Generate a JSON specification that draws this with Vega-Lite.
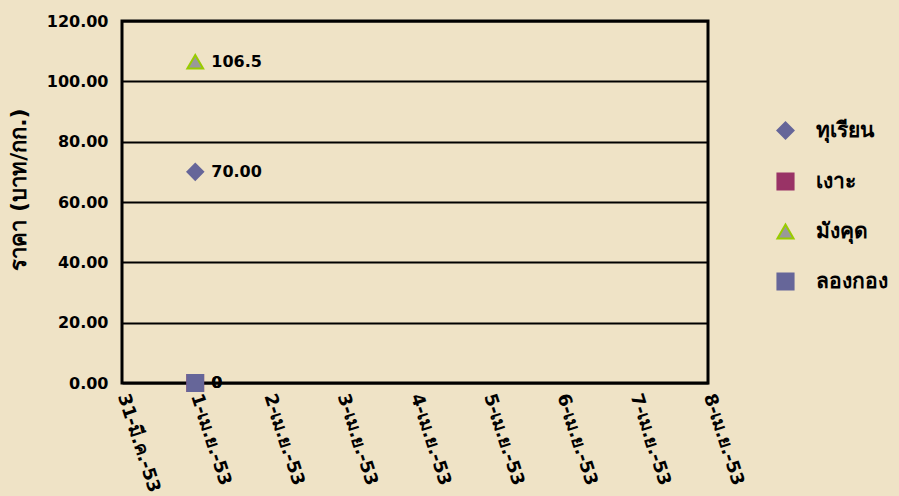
{
  "$schema": "https://vega.github.io/schema/vega-lite/v6.json",
  "width": 586,
  "height": 362,
  "autosize": {"type": "none"},
  "padding": {"left": 122, "top": 21, "right": 191, "bottom": 113},
  "background": "#EFE3C6",
  "config": {
    "font": "DejaVu Sans",
    "view": {"stroke": "#000000", "strokeWidth": 3},
    "axis": {"labelFont": "DejaVu Sans", "labelFontWeight": "bold", "labelColor": "#000000", "titleColor": "#000000"},
    "legend": {"symbolSize": 260, "symbolStrokeWidth": 2, "symbolOpacity": 1, "rowPadding": 26, "labelFontSize": 21, "labelFontWeight": "bold", "labelColor": "#000000", "labelOffset": 20}
  },
  "data": {
    "values": [
      {"date": "1-เม.ย.-53", "series": "ทุเรียน", "value": 70, "label": "70.00"},
      {"date": "1-เม.ย.-53", "series": "เงาะ", "value": 0, "label": "0"},
      {"date": "1-เม.ย.-53", "series": "มังคุด", "value": 106.5, "label": "106.5"},
      {"date": "1-เม.ย.-53", "series": "ลองกอง", "value": 0, "label": "0"}
    ]
  },
  "encoding": {
    "x": {
      "field": "date", "type": "ordinal",
      "scale": {"type": "point", "padding": 0, "domain": ["31-มี.ค.-53", "1-เม.ย.-53", "2-เม.ย.-53", "3-เม.ย.-53", "4-เม.ย.-53", "5-เม.ย.-53", "6-เม.ย.-53", "7-เม.ย.-53", "8-เม.ย.-53"]},
      "axis": {"title": null, "labelAngle": 72, "labelAlign": "left", "labelBaseline": "middle", "labelFontSize": 18, "labelPadding": 11, "ticks": false, "domain": false, "grid": false}
    },
    "y": {
      "field": "value", "type": "quantitative",
      "scale": {"domain": [0, 120], "nice": false, "zero": true},
      "axis": {"title": "ราคา  (บาท/กก.)", "titleFontSize": 22, "titleFontWeight": "bold", "titlePadding": 16, "titleY": 168, "values": [0, 20, 40, 60, 80, 100, 120], "format": ".2f", "labelFontSize": 16, "labelPadding": 14, "ticks": false, "domain": false, "grid": true, "gridColor": "#000000", "gridWidth": 2, "gridOpacity": 1}
    }
  },
  "layer": [
    {
      "mark": {"type": "point", "filled": true, "strokeWidth": 2, "opacity": 1, "size": 250},
      "encoding": {
        "shape": {
          "field": "series", "type": "nominal",
          "scale": {"domain": ["ทุเรียน", "เงาะ", "มังคุด", "ลองกอง"], "range": ["diamond", "square", "triangle-up", "square"]},
          "legend": {"title": null, "orient": "none", "legendX": 653, "legendY": 99}
        },
        "fill": {
          "field": "series", "type": "nominal",
          "scale": {"domain": ["ทุเรียน", "เงาะ", "มังคุด", "ลองกอง"], "range": ["#666699", "#993366", "#999999", "#666699"]},
          "legend": {"title": null, "orient": "none", "legendX": 653, "legendY": 99}
        },
        "stroke": {
          "field": "series", "type": "nominal",
          "scale": {"domain": ["ทุเรียน", "เงาะ", "มังคุด", "ลองกอง"], "range": ["#666699", "#993366", "#99CC00", "#666699"]},
          "legend": {"title": null, "orient": "none", "legendX": 653, "legendY": 99}
        }
      }
    },
    {
      "mark": {"type": "text", "align": "left", "baseline": "middle", "dx": 16, "fontSize": 16, "fontWeight": "bold", "color": "#000000"},
      "encoding": {"text": {"field": "label"}}
    }
  ]
}
